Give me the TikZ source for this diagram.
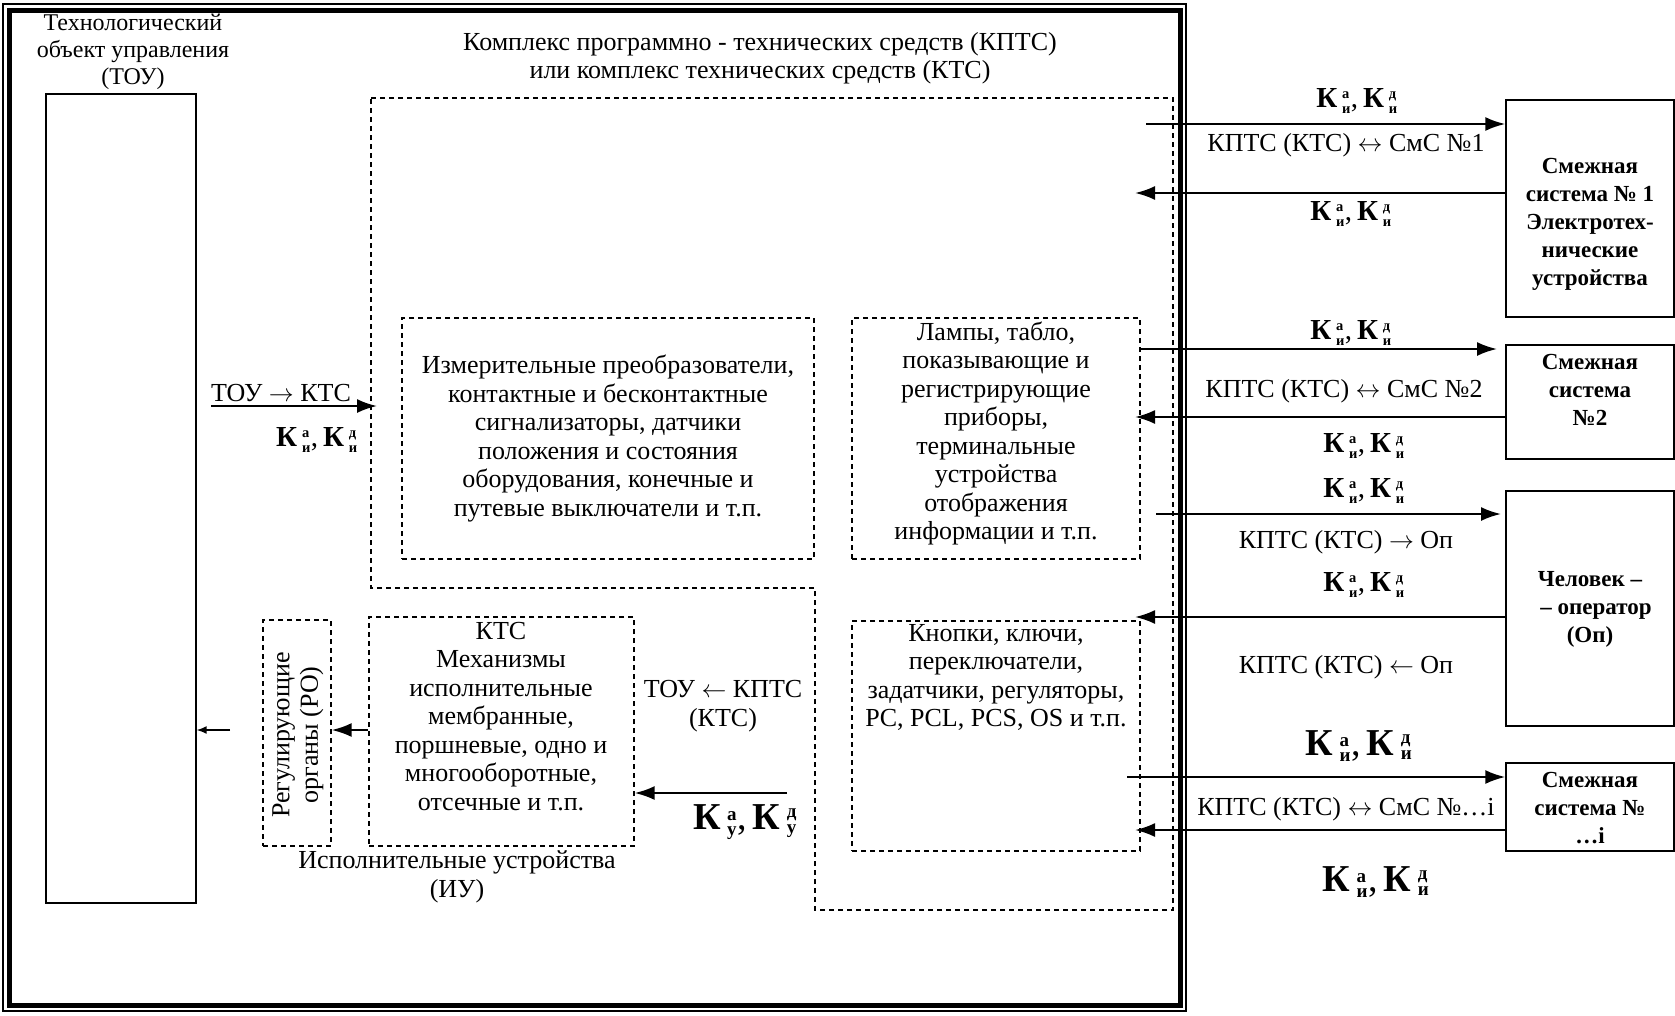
\documentclass[tikz,border=0pt]{standalone}
\usepackage{amsmath}
\usepackage{fontspec}
\setmainfont{Liberation Serif}
\usetikzlibrary{arrows.meta,fit,calc}
\newcommand\Kp[2]{\textbf{К}\,$^{\scriptscriptstyle\text{\bfseries #1}}_{\scriptscriptstyle\text{\bfseries #2}}$}
\newcommand\KK[1]{\Kp{а}{#1},\,\Kp{д}{#1}}
\begin{document}
\begin{tikzpicture}[x=1pt,y=-1pt,
  txt/.style={font=\fontsize{26}{28.5}\selectfont, align=center, inner sep=0pt},
  ttl/.style={font=\fontsize{24}{27}\selectfont, align=center, inner sep=0pt},
  btxt/.style={font=\fontsize{23}{28}\selectfont\bfseries, align=center, inner sep=0pt},
  ksm/.style={font=\fontsize{29}{30}\selectfont, inner sep=0pt},
  kbig/.style={font=\fontsize{38}{40}\selectfont, inner sep=0pt},
  dbox/.style={draw, dash pattern=on 5pt off 4pt, line width=1.3pt, inner sep=0pt},
  sbox/.style={draw, line width=1.4pt, inner sep=0pt},
  arr/.style={line width=2.2pt, -{Latex[length=20pt,width=14pt]}},
]
\useasboundingbox (0,0) rectangle (1675,1015);
% outer frame
\draw[line width=5pt] (9,10) rectangle (1180,1005);
\draw[line width=1.2pt] (3,4) rectangle (1186,1011);
% TOU
\node[ttl] (toutitle) at (133,52) {Технологический\\объект управления\\(ТОУ)};
\node[sbox, fit={(46,94) (196,903)}] (tou) {};
% KPTS region
\node[txt] (kptstitle) at (760,58) {Комплекс программно - технических средств (КПТС)\\или комплекс технических средств (КТС)};
\draw[dash pattern=on 5pt off 4pt, line width=1.3pt] (371,98) -- (1173,98) -- (1173,910) -- (815,910) -- (815,588) -- (371,588) -- cycle;
\coordinate (kptsW) at (377,406);
% inner boxes
\node[dbox, fit={(402,318) (814,559)}] (meas) {};
\node[txt] at (meas.center) {Измерительные преобразователи,\\контактные и бесконтактные\\сигнализаторы, датчики\\положения и состояния\\оборудования, конечные и\\путевые выключатели и т.п.};
\node[dbox, fit={(852,318) (1140,559)}] (lamps) {};
\node[txt] at ($(lamps.center)+(0,-5)$) {Лампы, табло,\\показывающие и\\регистрирующие\\приборы,\\терминальные\\устройства\\отображения\\информации и т.п.};
\node[dbox, fit={(852,621) (1140,851)}] (btn) {};
\node[txt, anchor=north] at (996,624) {Кнопки, ключи,\\переключатели,\\задатчики, регуляторы,\\PC, PCL, PCS, OS и т.п.};
\node[dbox, fit={(369,617) (634,846)}] (mech) {};
\node[txt, anchor=north] at (501,622) {КТС\\Механизмы\\исполнительные\\мембранные,\\поршневые, одно и\\многооборотные,\\отсечные и т.п.};
\node[dbox, fit={(263,620) (331,846)}] (ro) {};
\node[txt, rotate=90] at (298,735) {Регулирующие\\органы (РО)};
\node[txt] (iu) at (457,877) {Исполнительные устройства\\(ИУ)};
% left arrows
\node[txt] (l1) at (281,393) {ТОУ $\rightarrow$ КТС};
\node[ksm] (k1) at (317,440) {\KK{и}};
\coordinate (a9s) at (211,406);
\draw[arr] (a9s) -- (kptsW);
\node[txt] (l2) at (723,706) {ТОУ $\leftarrow$ КПТС\\(КТС)};
\coordinate (a10s) at (787,793);
\draw[arr] (a10s) -- (a10s -| mech.east);
\node[kbig] (k2) at (745,822) {\KK{у}};
\draw[arr] (mech.west |- 0,730) -- (ro.east |- 0,730);
\coordinate (a12s) at (230,730);
\draw[line width=1.5pt, -{Latex[length=10pt,width=8pt]}] (a12s) -- (a12s -| tou.east);
% right boxes
\node[sbox, fit={(1506,100) (1674,317)}] (smc1) {};
\node[btxt] at (1590,224) {Смежная\\система № 1\\Электротех-\\нические\\устройства};
\node[sbox, fit={(1506,345) (1674,459)}] (smc2) {};
\node[btxt] at (1590,390) {Смежная\\система\\№2};
\node[sbox, fit={(1506,491) (1674,726)}] (op) {};
\node[btxt] at (1590,609) {Человек –\\\hspace*{12pt}– оператор\\(Оп)};
\node[sbox, fit={(1506,763) (1674,851)}] (smci) {};
\node[btxt] at (1590,808) {Смежная\\система №\\…i};
% right arrows
\coordinate (a1s) at (1146,124);
\draw[arr] (a1s) -- (a1s -| smc1.west);
\coordinate (a2e) at (1135,193);
\draw[arr] (a2e -| smc1.west) -- (a2e);
\coordinate (a3s) at (1140,349);
\coordinate (a3e) at (1497,349);
\draw[arr] (a3s) -- (a3e);
\coordinate (a4e) at (1135,417);
\draw[arr] (a4e -| smc2.west) -- (a4e);
\coordinate (a5s) at (1156,514);
\coordinate (a5e) at (1501,514);
\draw[arr] (a5s) -- (a5e);
\coordinate (a6e) at (1135,617);
\draw[arr] (a6e -| op.west) -- (a6e);
\coordinate (a7s) at (1127,777);
\draw[arr] (a7s) -- (a7s -| smci.west);
\coordinate (a8e) at (1135,830);
\draw[arr] (a8e -| smci.west) -- (a8e);
% right labels
\node[ksm] at (1357,101) {\KK{и}};
\node[txt] at (1346,145) {КПТС (КТС) $\leftrightarrow$ СмС №1};
\node[ksm] at (1351,214) {\KK{и}};
\node[ksm] at (1351,333) {\KK{и}};
\node[txt] at (1344,391) {КПТС (КТС) $\leftrightarrow$ СмС №2};
\node[ksm] at (1364,446) {\KK{и}};
\node[ksm] at (1364,491) {\KK{и}};
\node[txt] at (1346,542) {КПТС (КТС) $\rightarrow$ Оп};
\node[ksm] at (1364,585) {\KK{и}};
\node[txt] at (1346,667) {КПТС (КТС) $\leftarrow$ Оп};
\node[kbig] at (1359,746) {\KK{и}};
\node[txt] at (1346,809) {КПТС (КТС) $\leftrightarrow$ СмС №…i};
\node[kbig] at (1376,882) {\KK{и}};
\end{tikzpicture}
\end{document}
